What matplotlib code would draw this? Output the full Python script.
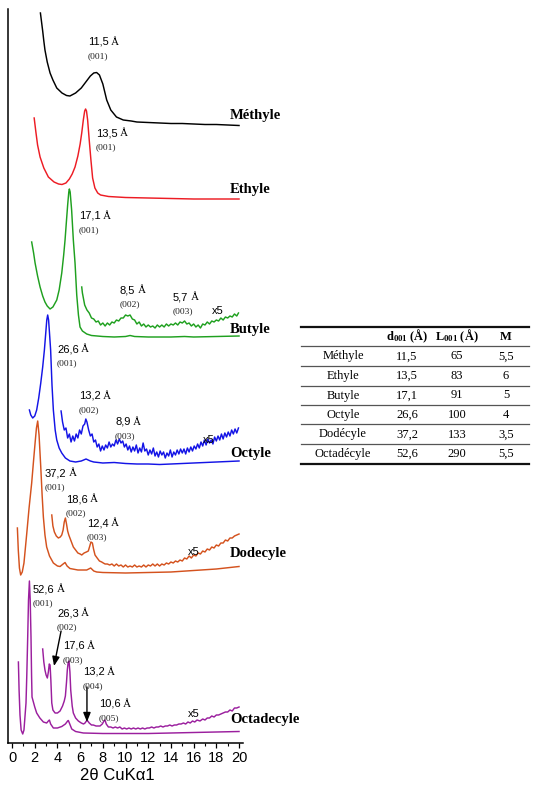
import matplotlib
matplotlib.use("Agg")
import matplotlib.pyplot as plt
from matplotlib.lines import Line2D

# ---------------- data (2theta, stacked intensity read as depth from top) ----------------
methyl_x = [2.5, 2.6, 2.7, 2.8, 2.9, 3.1, 3.35, 3.6, 3.94, 4.4, 4.8, 5.1, 5.6, 6.1, 6.5, 6.9, 7.2, 7.45,
            7.7, 8.0, 8.34, 8.7, 9.2, 9.8, 10.5, 11.0, 12.0, 13.0, 14.0, 15.0, 16.0, 17.0, 18.0, 19.0, 20.0]
methyl_y = [13, 22, 31, 41, 50, 62, 73, 80, 88, 93, 95.5, 96, 93, 88, 82, 76, 73, 72.5,
            75, 84, 100, 110, 117, 120, 121, 122, 122.5, 123, 123.5, 123.5, 124, 124.5, 124.5, 125, 125.5]

ethyl_x = [1.95, 2.1, 2.25, 2.47, 2.8, 3.2, 3.7, 4.1, 4.4, 4.75, 5.05, 5.3, 5.55, 5.8, 6.0, 6.14, 6.28,
           6.4, 6.48, 6.56, 6.66, 6.8, 6.95, 7.1, 7.3, 7.55, 7.8, 8.5, 10.0, 12.0, 14.0, 16.0, 18.0, 20.0]
ethyl_y = [118, 132, 145, 157, 168, 177, 182, 184, 184.5, 183, 179, 174, 167, 156, 144, 133, 120,
           111, 109, 111, 120, 140, 160, 178, 188, 193, 195, 196.5, 197.5, 198, 198.5, 199, 199, 199]

butyl_x = [1.73, 1.9, 2.03, 2.25, 2.47, 2.7, 2.9, 3.1, 3.35, 3.6, 3.94, 4.15, 4.38, 4.55, 4.67, 4.8, 4.9,
           5.0, 5.05, 5.12, 5.25, 5.4, 5.55, 5.7, 5.85, 5.99, 6.2, 6.58, 7.0, 8.0, 9.0, 10.0, 10.4, 10.8,
           12.0, 14.0, 15.2, 16.0, 18.0, 20.0]
butyl_y = [242, 253, 263, 276, 287, 296, 302, 306, 309, 307, 300, 290, 273, 255, 240, 220, 205,
           192, 189, 192, 210, 240, 263, 295, 315, 327, 331, 334, 335.5, 336.5, 337, 336.5, 335.5, 336.5,
           337, 337, 336.5, 337, 336.5, 336]

butyl5_x = [6.14, 6.2, 6.4, 6.6, 6.8, 7.0, 7.2, 7.4, 7.6, 7.8, 8.0, 8.2, 8.4, 8.6, 8.8, 9.0, 9.2, 9.4,
            9.6, 9.8, 10.0, 10.2, 10.4, 10.6, 10.8, 11.0, 11.2, 11.4, 11.6, 11.8, 12.0, 12.2, 12.4, 12.6,
            12.8, 13.0, 13.2, 13.4, 13.6, 13.8, 14.0, 14.2, 14.4, 14.6, 14.8, 15.0, 15.2, 15.4, 15.6,
            15.8, 16.0, 16.2, 16.4, 16.6, 16.8, 17.0, 17.2, 17.4, 17.6, 17.8, 18.0, 18.2, 18.4, 18.6,
            18.8, 19.0, 19.2, 19.4, 19.6, 19.8, 19.95]
butyl5_y = [287, 293, 305, 310, 313, 318, 319, 322, 321, 325, 323, 326, 323, 325, 322, 323, 320, 321,
            318, 318, 315, 316, 315, 319, 320, 324, 322, 326, 324, 327, 325, 327, 326, 328,
            325, 327, 325, 327, 324, 326, 324, 325, 323, 325, 322, 323, 321, 324, 323,
            326, 324, 327, 325, 328, 324, 325, 322, 324, 321, 322, 320, 321, 318, 320,
            317, 318, 316, 317, 314, 316, 313]

octyl_x = [1.53, 1.65, 1.82, 2.0, 2.17, 2.35, 2.53, 2.7, 2.85, 2.97, 3.06, 3.14, 3.22, 3.3, 3.4, 3.52,
           3.64, 3.8, 3.94, 4.15, 4.38, 4.7, 5.1, 5.6, 6.1, 6.52, 6.9, 7.2, 8.0, 9.0, 10.0, 11.0, 12.0,
           13.0, 14.0, 15.0, 16.0, 17.0, 18.0, 19.0, 20.0]
octyl_y = [410, 415, 418, 416, 410, 398, 383, 367, 350, 333, 320, 315, 320, 333, 350, 385,
           410, 430, 440, 448, 453, 458, 461, 462, 461, 459, 461, 462, 463, 462.5, 463.5, 464, 464,
           464.5, 464, 463.5, 463, 462.5, 462, 461.5, 461]

octyl5_x = [4.32, 4.45, 4.6, 4.75, 4.9, 5.05, 5.2, 5.35, 5.5, 5.65, 5.8, 5.95, 6.1, 6.25, 6.4, 6.5, 6.6,
            6.75, 6.9, 7.05, 7.2, 7.35, 7.5, 7.65, 7.8, 7.95, 8.1, 8.25, 8.4, 8.55, 8.7, 8.85, 9.0, 9.15,
            9.3, 9.45, 9.6, 9.75, 9.9, 10.05, 10.2, 10.35, 10.5, 10.65, 10.8, 10.95, 11.1, 11.25, 11.4,
            11.55, 11.7, 11.85, 12.0, 12.15, 12.3, 12.45, 12.6, 12.75, 12.9, 13.05, 13.2, 13.35, 13.5,
            13.65, 13.8, 13.95, 14.1, 14.25, 14.4, 14.55, 14.7, 14.85, 15.0, 15.15, 15.3, 15.45, 15.6,
            15.75, 15.9, 16.05, 16.2, 16.35, 16.5, 16.65, 16.8, 16.95, 17.1, 17.25, 17.4, 17.55, 17.7,
            17.85, 18.0, 18.15, 18.3, 18.45, 18.6, 18.75, 18.9, 19.05, 19.2, 19.35, 19.5, 19.65, 19.8,
            19.95]
octyl5_y = [411, 422, 430, 428, 438, 434, 442, 436, 441, 434, 438, 430, 434, 426, 424, 419, 422,
            430, 436, 434, 442, 440, 447, 444, 451, 446, 450, 445, 448, 442, 447, 444, 446, 440,
            444, 439, 443, 441, 447, 444, 450, 446, 452, 447, 451, 445, 453, 448, 452,
            443, 451, 449, 455, 450, 454, 448, 456, 452, 457, 451, 455, 452, 458,
            453, 456, 450, 457, 452, 455, 450, 454, 449, 453, 449, 454, 448, 452,
            447, 451, 446, 449, 444, 448, 442, 446, 440, 445, 439, 443, 440, 444,
            437, 441, 436, 440, 434, 439, 433, 437, 432, 436, 430, 434, 429, 433,
            428]

dodecyl_x = [0.47, 0.55, 0.65, 0.76, 0.9, 1.05, 1.3, 1.5, 1.73, 1.9, 2.03, 2.15, 2.26, 2.38, 2.53, 2.65,
             2.76, 2.9, 3.05, 3.3, 3.64, 4.0, 4.23, 4.5, 4.67, 4.85, 5.1, 5.8, 6.58, 6.93, 7.2, 7.46, 8.0,
             10.0, 12.0, 14.0, 16.0, 18.0, 20.0]
dodecyl_y = [528, 550, 568, 575, 572, 563, 533, 508, 483, 460, 443, 428, 421, 435, 467, 495,
             517, 535, 547, 556, 563, 566, 566.5, 564, 562.5, 566, 568.5, 570, 570, 568, 571, 572, 572.5,
             573, 572.5, 572, 570.5, 569, 566.5]

dodecyl5_x = [3.5, 3.6, 3.73, 3.9, 4.08, 4.25, 4.38, 4.5, 4.6, 4.7, 4.8, 4.9, 5.0, 5.2, 5.4, 5.6, 5.8,
              6.0, 6.14, 6.35, 6.55, 6.72, 6.85, 6.95, 7.08, 7.18, 7.31, 7.5, 7.7, 7.9, 8.04, 8.2, 8.4,
              8.6, 8.8, 9.0, 9.2, 9.4, 9.6, 9.8, 10.0, 10.2, 10.4, 10.6, 10.8, 11.0, 11.2, 11.4, 11.6,
              11.8, 12.0, 12.2, 12.4, 12.6, 12.8, 13.0, 13.2, 13.4, 13.6, 13.8, 14.0, 14.2, 14.4, 14.6,
              14.8, 15.0, 15.2, 15.4, 15.6, 15.8, 16.0, 16.2, 16.4, 16.6, 16.8, 17.0, 17.2, 17.4, 17.6,
              17.8, 18.0, 18.2, 18.4, 18.6, 18.8, 19.0, 19.2, 19.4, 19.6, 19.8, 20.0]
dodecyl5_y = [515, 526, 532, 536, 538, 537, 535, 530, 522, 518, 524, 531, 535, 541, 547, 550, 553,
              554, 555, 553, 552, 551, 546, 542, 543, 549, 555, 558, 561, 562, 563, 564, 564,
              565, 564, 566, 564, 566, 565, 567, 565, 567, 566, 567, 565, 567, 566, 567, 565,
              567, 565, 566, 564, 566, 564, 566, 564, 565, 563, 564, 562, 563, 561, 562,
              560, 561, 558, 559, 556, 558, 555, 556, 553, 554, 551, 552, 549, 550, 547,
              548, 545, 546, 543, 543, 540, 541, 538, 538, 536, 535, 534]

octadecyl_x = [0.56, 0.62, 0.7, 0.8, 0.94, 1.05, 1.15, 1.23, 1.3, 1.38, 1.45, 1.53, 1.6, 1.67, 1.72, 1.76,
               1.88, 2.0, 2.17, 2.45, 2.76, 3.05, 3.2, 3.29, 3.4, 3.64, 4.0, 4.38, 4.7, 4.9, 4.96, 5.05,
               5.26, 5.6, 6.28, 8.0, 10.0, 12.0, 14.0, 16.0, 18.0, 20.0]
octadecyl_y = [662, 690, 715, 730, 734, 730, 715, 703, 675, 637, 600, 581, 600, 637, 675, 697,
               702, 707, 713, 718, 722, 723, 721, 720, 724, 728, 728, 726.5, 724, 721, 720.5, 723,
               729, 731.5, 733, 733.5, 733.5, 733.5, 733, 732.5, 732, 731.5]

octadecyl5_x = [2.7, 2.8, 2.9, 3.0, 3.11, 3.2, 3.28, 3.35, 3.42, 3.5, 3.6, 3.79, 4.0, 4.23, 4.45, 4.6,
                4.7, 4.8, 4.87, 4.95, 5.02, 5.1, 5.17, 5.3, 5.4, 5.6, 5.84, 6.1, 6.3, 6.43, 6.55, 6.67,
                6.8, 7.0, 7.16, 7.4, 7.6, 7.75, 7.95, 8.1, 8.19, 8.3, 8.49, 8.7, 8.9, 9.1, 9.3, 9.5, 9.7,
                9.9, 10.1, 10.3, 10.5, 10.7, 10.9, 11.1, 11.3, 11.5, 11.7, 11.9, 12.1, 12.3, 12.5, 12.7,
                12.9, 13.1, 13.3, 13.5, 13.7, 13.9, 14.1, 14.3, 14.5, 14.7, 14.9, 15.1, 15.3, 15.5, 15.7,
                15.9, 16.1, 16.3, 16.56, 16.8, 17.0, 17.2, 17.4, 17.6, 17.8, 18.0, 18.2, 18.4, 18.6, 18.8,
                19.0, 19.2, 19.4, 19.6, 19.8, 20.0]
octadecyl5_y = [649, 662, 670, 675, 678, 672, 664, 665, 680, 703, 710, 713, 713, 711, 706, 701,
                696, 682, 670, 662, 661, 672, 690, 706, 713, 718, 721, 723, 724, 723, 721, 721,
                723, 725, 725, 726, 726, 726, 724, 721, 720, 724, 727, 727, 728, 727, 728, 727, 729,
                728, 729, 728, 729, 728, 729, 728, 729, 728, 729, 728, 728, 727, 728, 727,
                727, 726, 727, 726, 726, 725, 726, 725, 725, 724, 724, 723, 724, 722, 723,
                721, 722, 720, 721, 719, 720, 718, 718, 716, 717, 715, 715, 714, 713, 712,
                712, 710, 711, 708, 708, 707]

series_names = ["Méthyle", "Ethyle", "Butyle", "Octyle", "Dodecyle", "Octadecyle"]
series_colors = ["#000000", "#ED1C24", "#1FA01F", "#1414E6", "#D4521E", "#9B1F9E"]

peak_d = ["11,5", "13,5", "17,1", "8,5", "5,7", "26,6", "13,2", "8,9",
          "37,2", "18,6", "12,4", "52,6", "26,3", "17,6", "13,2", "10,6"]
peak_hkl = ["(001)", "(001)", "(001)", "(002)", "(003)", "(001)", "(002)", "(003)",
            "(001)", "(002)", "(003)", "(001)", "(002)", "(003)", "(004)", "(005)"]

# table
tab_cols = ["d$_{\\mathbf{001}}$ (Å)", "L$_{\\mathbf{001}}$ (Å)", "M"]
tab_names = ["Méthyle", "Ethyle", "Butyle", "Octyle", "Dodécyle", "Octadécyle"]
tab_d001 = ["11,5", "13,5", "17,1", "26,6", "37,2", "52,6"]
tab_L001 = ["65", "83", "91", "100", "133", "290"]
tab_M = ["5,5", "6", "5", "4", "3,5", "5,5"]

# ---------------- figure ----------------
W, H = 538, 800
plt.rcParams["mathtext.fontset"] = "custom"
plt.rcParams["mathtext.rm"] = "Liberation Serif"
plt.rcParams["mathtext.bf"] = "Liberation Serif:bold"
plt.rcParams["mathtext.it"] = "Liberation Serif:italic"

fig = plt.figure(figsize=(W / 100, H / 100), dpi=100)
fig.patch.set_facecolor("white")
ax = fig.add_axes([8.3 / W, 57 / H, (243 - 8.3) / W, (743 - 9) / H])
ax.set_xlim(-0.33, 20.35)
ax.set_ylim(743, 9)

curves = [
    [(methyl_x, methyl_y)],
    [(ethyl_x, ethyl_y)],
    [(butyl_x, butyl_y), (butyl5_x, butyl5_y)],
    [(octyl_x, octyl_y), (octyl5_x, octyl5_y)],
    [(dodecyl_x, dodecyl_y), (dodecyl5_x, dodecyl5_y)],
    [(octadecyl_x, octadecyl_y), (octadecyl5_x, octadecyl5_y)],
]
for parts, col in zip(curves, series_colors):
    for xs, ys in parts:
        ax.plot(xs, ys, color=col, lw=1.05, solid_joinstyle="round")

for s in ["top", "right"]:
    ax.spines[s].set_visible(False)
for s in ["left", "bottom"]:
    ax.spines[s].set_linewidth(1.1)
ax.set_yticks([])
ax.set_xticks(range(0, 21, 2))
ax.set_xticks(range(1, 20, 2), minor=True)
ax.tick_params(axis="x", which="major", direction="out", length=3.5, width=0.9, pad=2,
               labelsize=10.5)
ax.tick_params(axis="x", which="minor", direction="out", length=2.5, width=0.8)
for lab in ax.get_xticklabels():
    lab.set_family("Liberation Sans")

def ftext(px, py, s, **kw):
    return fig.text(px / W, 1 - py / H, s, **kw)

ftext(117, 775, "2θ CuKα1", family="Liberation Sans", size=12, ha="center", va="center")

# series names
name_pos = [115, 190, 329, 453, 554, 720]
for nm, py in zip(series_names, name_pos):
    ftext(230, py, nm, family="Liberation Serif", weight="bold", size=10.5, ha="left", va="center")

# peak labels
peak_pos = [(88, 42), (96, 133), (79, 216), (120, 290), (173, 297), (57, 349), (79, 396), (115, 422),
            (45, 473), (66, 499), (87, 523), (33, 589), (57, 613), (63, 646), (83, 672), (99, 704)]
for d, hkl, (px, py) in zip(peak_d, peak_hkl, peak_pos):
    t = ftext(px, py, d, family="Liberation Sans", size=8, ha="left", va="center")
    ax.annotate("Å", xy=(1, 0), xycoords=t, xytext=(1.6, 0), textcoords="offset points",
                family="Liberation Serif", size=8, ha="left", va="bottom", annotation_clip=False)
    ftext(px, py + 14, hkl, family="Liberation Serif", size=6.8, ha="left", va="center", color="#222222")

for (px, py) in [(212, 311), (203, 440), (188, 552), (188, 714)]:
    ftext(px, py, "x5", family="Liberation Sans", size=8, ha="left", va="center")

# arrows (2theta, depth)
arrowprops = dict(arrowstyle="-|>,head_length=0.55,head_width=0.22", color="black", lw=1.0,
                  shrinkA=0, shrinkB=0)
ax.annotate("", xy=(3.7, 666), xytext=(4.32, 631), arrowprops=arrowprops)
ax.annotate("", xy=(6.6, 722), xytext=(6.6, 687), arrowprops=arrowprops)

# ---------------- table ----------------
x0, x1 = 301, 529
rules = [326.7, 346, 366, 385.7, 405, 424.3, 444, 464]
for i, py in enumerate(rules):
    thick = i in (0, len(rules) - 1)
    fig.add_artist(Line2D([x0 / W, x1 / W], [1 - py / H, 1 - py / H],
                          color="#111111" if thick else "#555555",
                          lw=1.6 if thick else 0.9, transform=fig.transFigure))
col_x = [343, 407, 457, 506]
row_y = [336.5, 356.5, 376, 395.5, 415, 434.5, 454]
for cx, lab in zip(col_x[1:], tab_cols):
    ftext(cx, row_y[0], lab, family="Liberation Serif", weight="bold", size=9, ha="center", va="center")
for r in range(len(tab_names)):
    vals = [tab_names[r], tab_d001[r], tab_L001[r], tab_M[r]]
    for cx, v in zip(col_x, vals):
        ftext(cx, row_y[r + 1], v, family="Liberation Serif", size=9, ha="center", va="center")

fig.savefig("out.png", dpi=100)
